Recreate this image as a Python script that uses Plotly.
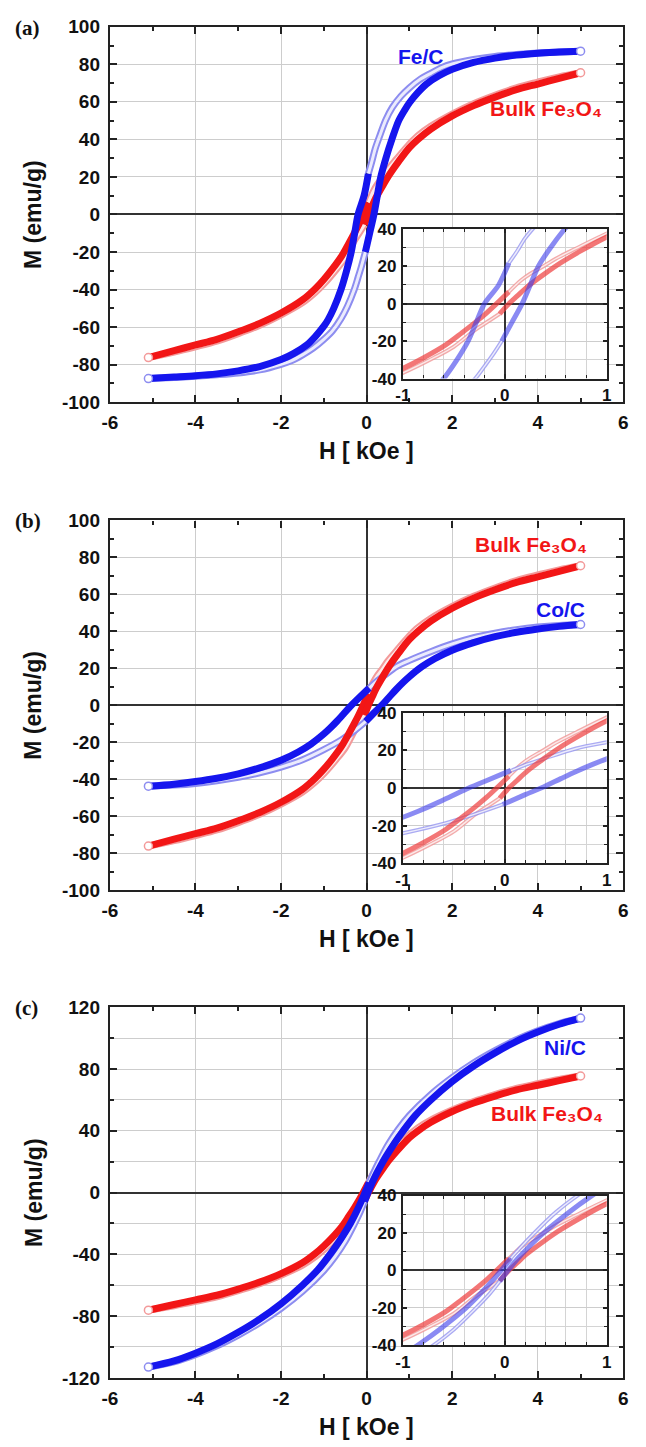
import plotly.graph_objects as go

# ---------------- data ----------------
# Fe/C  (panel a)
fec_dn_thin_h = [5.0, 4.5, 4.0, 3.5, 3.0, 2.5, 2.0, 1.75, 1.5, 1.25, 1.0, 0.8, 0.6, 0.45, 0.3, 0.2, 0.12, 0.04]
fec_dn_thin_m = [87.0, 86.6, 86.0, 85.2, 84.2, 82.6, 80.2, 78.2, 75.2, 72.0, 67.5, 63.0, 57.0, 50.5, 41.5, 35.0, 28.0, 21.7]
fec_dn_dense_h = [0.04, -0.06, -0.2, -0.28, -0.36, -0.47, -0.6, -0.77, -0.9, -1.0, -1.2, -1.4, -1.7, -2.0, -2.5, -3.0, -3.5, -4.0, -4.5, -5.1]
fec_dn_dense_m = [21.7, 10.0, 0.0, -10.0, -20.0, -30.0, -40.0, -50.0, -56.0, -59.5, -65.0, -69.5, -74.0, -77.3, -81.0, -83.3, -84.9, -85.9, -86.6, -87.4]
fec_up_thin_h = [-5.1, -4.5, -4.0, -3.5, -3.0, -2.5, -2.0, -1.75, -1.5, -1.25, -1.0, -0.8, -0.6, -0.45, -0.29, -0.2, -0.12, -0.03]
fec_up_thin_m = [-87.4, -86.8, -86.2, -85.4, -84.4, -82.8, -79.8, -77.8, -74.8, -71.2, -66.5, -62.0, -55.5, -49.0, -40.0, -33.5, -27.5, -20.0]
fec_up_dense_h = [-0.03, 0.07, 0.17, 0.25, 0.33, 0.45, 0.59, 0.75, 0.9, 1.0, 1.2, 1.4, 1.7, 2.0, 2.5, 3.0, 3.5, 4.0, 4.5, 5.0]
fec_up_dense_m = [-20.0, -10.0, 0.0, 10.0, 20.0, 30.0, 40.0, 50.0, 56.0, 59.5, 65.0, 69.5, 74.0, 77.3, 81.0, 83.3, 84.9, 85.9, 86.5, 87.0]

# Bulk Fe3O4 (all panels)
fe3o4_dn_thin_h = [5.0, 4.5, 4.0, 3.5, 3.0, 2.5, 2.0, 1.5, 1.2, 1.0, 0.7, 0.5, 0.38, 0.25, 0.16, 0.04]
fe3o4_dn_thin_m = [75.5, 73.3, 70.5, 67.5, 63.5, 59.0, 53.5, 47.0, 42.0, 37.5, 29.5, 24.0, 20.0, 16.0, 12.5, 6.3]
fe3o4_dn_dense_h = [0.04, -0.08, -0.18, -0.29, -0.42, -0.58, -0.8, -1.0, -1.2, -1.5, -2.0, -2.5, -3.0, -3.5, -4.0, -4.5, -5.1]
fe3o4_dn_dense_m = [6.3, 0.0, -5.0, -10.0, -15.5, -22.0, -29.0, -34.6, -39.5, -45.5, -52.5, -58.0, -62.5, -66.5, -69.5, -72.5, -76.2]
fe3o4_up_thin_h = [-5.1, -4.5, -4.0, -3.5, -3.0, -2.5, -2.0, -1.5, -1.2, -1.0, -0.7, -0.5, -0.29, -0.15, -0.05]
fe3o4_up_thin_m = [-76.2, -73.3, -70.5, -67.5, -63.5, -59.0, -53.5, -47.0, -41.5, -37.0, -29.0, -23.0, -14.0, -9.0, -5.4]
fe3o4_up_dense_h = [-0.05, 0.04, 0.12, 0.22, 0.38, 0.54, 0.75, 1.0, 1.2, 1.5, 2.0, 2.5, 3.0, 3.5, 4.0, 4.5, 5.0]
fe3o4_up_dense_m = [-5.4, 0.0, 4.0, 9.0, 15.5, 21.5, 28.3, 35.6, 40.0, 45.5, 52.5, 58.0, 62.5, 66.5, 69.5, 72.5, 75.5]

# Co/C (panel b)
coc_dn_thin_h = [5.0, 4.5, 4.0, 3.5, 3.0, 2.5, 2.0, 1.5, 1.0, 0.7, 0.38, 0.2, 0.07]
coc_dn_thin_m = [43.7, 43.2, 42.3, 40.9, 39.0, 36.6, 33.2, 29.0, 24.3, 21.0, 15.5, 12.3, 9.4]
coc_dn_dense_h = [0.06, -0.2, -0.38, -0.55, -0.7, -0.85, -1.0, -1.3, -1.6, -2.0, -2.5, -3.0, -3.5, -4.0, -4.5, -5.1]
coc_dn_dense_m = [9.4, 3.5, -0.6, -5.0, -8.8, -12.3, -15.5, -21.0, -25.3, -29.8, -33.9, -37.1, -39.5, -41.3, -42.7, -43.8]
coc_up_thin_h = [-5.1, -4.5, -4.0, -3.5, -3.0, -2.5, -2.0, -1.5, -1.0, -0.58, -0.3, -0.02]
coc_up_thin_m = [-43.8, -43.2, -42.3, -40.9, -39.0, -36.6, -33.5, -29.5, -24.0, -18.6, -14.0, -8.7]
coc_up_dense_h = [-0.02, 0.2, 0.38, 0.55, 0.7, 0.85, 1.0, 1.3, 1.6, 2.0, 2.5, 3.0, 3.5, 4.0, 4.5, 5.0]
coc_up_dense_m = [-8.7, -3.5, 0.6, 5.0, 8.8, 12.3, 15.5, 21.0, 25.3, 29.8, 33.9, 37.1, 39.5, 41.3, 42.7, 43.7]

# Ni/C (panel c)
nic_dn_thin_h = [5.0, 4.5, 4.0, 3.5, 3.0, 2.5, 2.0, 1.5, 1.0, 0.74, 0.5, 0.29, 0.15, 0.06]
nic_dn_thin_m = [113.0, 109.5, 104.8, 99.0, 92.0, 84.0, 74.5, 63.5, 50.0, 41.0, 31.0, 20.0, 12.0, 6.5]
nic_dn_dense_h = [0.06, -0.13, -0.38, -0.64, -0.83, -1.14, -1.5, -2.0, -2.5, -3.0, -3.5, -4.0, -4.5, -5.1]
nic_dn_dense_m = [6.5, -6.0, -20.0, -31.5, -39.0, -50.0, -60.0, -72.0, -82.0, -90.5, -98.0, -104.0, -109.0, -113.0]
nic_up_thin_h = [-5.1, -4.5, -4.0, -3.5, -3.0, -2.5, -2.0, -1.5, -1.0, -0.74, -0.5, -0.29, -0.15, -0.05]
nic_up_thin_m = [-113.0, -109.6, -105.0, -99.3, -92.3, -84.3, -75.0, -64.0, -50.5, -41.5, -31.5, -20.5, -12.5, -5.8]
nic_up_dense_h = [-0.05, 0.13, 0.38, 0.64, 0.83, 1.14, 1.5, 2.0, 2.5, 3.0, 3.5, 4.0, 4.5, 5.0]
nic_up_dense_m = [-5.8, 6.5, 20.0, 31.5, 39.0, 50.0, 60.0, 72.0, 82.0, 90.5, 98.0, 104.0, 109.0, 113.0]

# tick labels
main_x_vals = [-6, -4, -2, 0, 2, 4, 6]
main_x_text = ["-6", "-4", "-2", "0", "2", "4", "6"]
main_y_vals_ab = [-100, -80, -60, -40, -20, 0, 20, 40, 60, 80, 100]
main_y_text_ab = ["-100", "-80", "-60", "-40", "-20", "0", "20", "40", "60", "80", "100"]
main_y_vals_c = [-120, -80, -40, 0, 40, 80, 120]
main_y_text_c = ["-120", "-80", "-40", "0", "40", "80", "120"]
ins_x_vals = [-1, 0, 1]
ins_x_text = ["-1", "0", "1"]
ins_y_vals = [-40, -20, 0, 20, 40]
ins_y_text = ["-40", "-20", "0", "20", "40"]

panel_labels = ["(a)", "(b)", "(c)"]
sample_names = ["Fe/C", "Co/C", "Ni/C"]
bulk_name = "Bulk Fe\u2083O\u2084"
x_title = "H [ kOe ]"
y_title = "M (emu/g)"

# ---------------- layout helpers ----------------
W, H = 646, 1447
FONT = "Liberation Sans, Arial, sans-serif"


def xd(px):
    return px / W


def yd(py):
    return 1 - py / H


main_boxes = [(104, 628, 17, 398), (104, 628, 518, 893), (104, 628, 1012, 1388)]
inset_boxes = [(403, 611, 222, 374), (403, 611, 713, 866), (403, 611, 1203, 1355)]

BLUE = "#1515ee"
BLUE_L = "#8d8df0"
BLUE_LL = "#ebebfd"
RED = "#f21616"
RED_L = "#f39a9a"
RED_LL = "#fdeaea"

fig = go.Figure()
layout = dict(width=W, height=H, margin=dict(l=0, r=0, t=0, b=0),
              paper_bgcolor="white", plot_bgcolor="white", showlegend=False)

blue_loops = [
    (fec_dn_thin_h, fec_dn_thin_m, fec_dn_dense_h, fec_dn_dense_m,
     fec_up_thin_h, fec_up_thin_m, fec_up_dense_h, fec_up_dense_m),
    (coc_dn_thin_h, coc_dn_thin_m, coc_dn_dense_h, coc_dn_dense_m,
     coc_up_thin_h, coc_up_thin_m, coc_up_dense_h, coc_up_dense_m),
    (nic_dn_thin_h, nic_dn_thin_m, nic_dn_dense_h, nic_dn_dense_m,
     nic_up_thin_h, nic_up_thin_m, nic_up_dense_h, nic_up_dense_m),
]
red_loop = (fe3o4_dn_thin_h, fe3o4_dn_thin_m, fe3o4_dn_dense_h, fe3o4_dn_dense_m,
            fe3o4_up_thin_h, fe3o4_up_thin_m, fe3o4_up_dense_h, fe3o4_up_dense_m)


def line_tr(h, m, xa, ya, color, width, smooth=0.9):
    return go.Scatter(x=h, y=m, xaxis=xa, yaxis=ya, mode="lines", hoverinfo="skip",
                      line=dict(color=color, width=width, shape="spline", smoothing=smooth))


def add_loop(data, xa, ya, strong, light, lighter, inset, stage):
    dth, dtm, ddh, ddm, uth, utm, udh, udm = data
    if stage == "thin":
        for h, m in ((dth, dtm), (uth, utm)):
            if inset:
                fig.add_trace(line_tr(h, m, xa, ya, light, 4))
                fig.add_trace(line_tr(h, m, xa, ya, lighter, 1.4))
            else:
                fig.add_trace(line_tr(h, m, xa, ya, light, 7))
                fig.add_trace(line_tr(h, m, xa, ya, lighter, 3))
    else:
        for h, m in ((ddh, ddm), (udh, udm)):
            fig.add_trace(line_tr(h, m, xa, ya, strong, 5 if inset else 7))
        if not inset:
            fig.add_trace(go.Scatter(x=[dth[0], uth[0]], y=[dtm[0], utm[0]], xaxis=xa, yaxis=ya,
                                     mode="markers", hoverinfo="skip",
                                     marker=dict(symbol="circle", size=8, color="white",
                                                 line=dict(color=light, width=1.5))))


tickfont_main = dict(family=FONT, size=19, color="#111", weight="bold")
tickfont_ins = dict(family=FONT, size=17, color="#111", weight="bold")

annotations = []
# label anchor positions in data units of each main panel
name_pos = [
    [(1.26, 84.0, BLUE, sample_names[0]), (4.2, 56.5, RED, bulk_name)],
    [(3.85, 87.0, RED, bulk_name), (4.53, 52.0, BLUE, sample_names[1])],
    [(4.63, 94.0, BLUE, sample_names[2]), (4.22, 51.0, RED, bulk_name)],
]

for p in range(3):
    mi = 2 * p + 1
    ii = 2 * p + 2
    mx = "x" if mi == 1 else f"x{mi}"
    my = "y" if mi == 1 else f"y{mi}"
    ix, iy = f"x{ii}", f"y{ii}"
    mxk = "xaxis" if mi == 1 else f"xaxis{mi}"
    myk = "yaxis" if mi == 1 else f"yaxis{mi}"
    ixk, iyk = f"xaxis{ii}", f"yaxis{ii}"
    bx0, bx1, by0, by1 = main_boxes[p]
    cx0, cx1, cy0, cy1 = inset_boxes[p]

    common = dict(showline=True, linewidth=2.2, linecolor="#222", mirror="ticks",
                  ticks="inside", tickwidth=2, tickcolor="#222",
                  showgrid=True, gridcolor="#cdcdcd", gridwidth=1.2,
                  zeroline=True, zerolinecolor="#333", zerolinewidth=1.6, fixedrange=True)

    layout[mxk] = dict(common, domain=[xd(bx0), xd(bx1)], anchor=my, range=[-6, 6],
                       tickmode="array", tickvals=main_x_vals, ticktext=main_x_text, ticklen=7,
                       minor=dict(dtick=1, tick0=0, ticks="inside", ticklen=4, tickwidth=1.6,
                                  tickcolor="#222", showgrid=False),
                       tickfont=tickfont_main, ticklabelstandoff=2)
    if p < 2:
        yv, yt, yr, ymd, yminor_grid = main_y_vals_ab, main_y_text_ab, [-100, 100], 10, False
    else:
        yv, yt, yr, ymd, yminor_grid = main_y_vals_c, main_y_text_c, [-120, 120], 20, True
    layout[myk] = dict(common, domain=[yd(by1), yd(by0)], anchor=mx, range=yr,
                       tickmode="array", tickvals=yv, ticktext=yt, ticklen=7,
                       minor=dict(dtick=ymd, tick0=0, ticks="inside", ticklen=4, tickwidth=1.6,
                                  tickcolor="#222", showgrid=yminor_grid,
                                  gridcolor="#cdcdcd", gridwidth=1.2),
                       tickfont=tickfont_main, ticklabelstandoff=4)
    layout[ixk] = dict(common, domain=[xd(cx0), xd(cx1)], anchor=iy, range=[-1, 1],
                       tickmode="array", tickvals=ins_x_vals, ticktext=ins_x_text, ticklen=4,
                       minor=dict(dtick=0.2, tick0=0, ticks="inside", ticklen=3, tickwidth=1.2,
                                  tickcolor="#222", showgrid=True, gridcolor="#d4d4d4", gridwidth=1),
                       tickfont=tickfont_ins, ticklabelstandoff=0)
    layout[iyk] = dict(common, domain=[yd(cy1), yd(cy0)], anchor=ix, range=[-40, 40],
                       tickmode="array", tickvals=ins_y_vals, ticktext=ins_y_text, ticklen=4,
                       minor=dict(dtick=10, tick0=0, ticks="inside", ticklen=3, tickwidth=1.2,
                                  tickcolor="#222", showgrid=True, gridcolor="#d4d4d4", gridwidth=1),
                       tickfont=tickfont_ins, ticklabelstandoff=1)

    blue = blue_loops[p]
    for stage in ("thin", "dense"):
        add_loop(red_loop, mx, my, RED, RED_L, RED_LL, False, stage)
        add_loop(blue, mx, my, BLUE, BLUE_L, BLUE_LL, False, stage)
    for stage in ("thin", "dense"):
        add_loop(red_loop, ix, iy, "rgba(238,60,60,0.7)", "rgba(240,150,150,0.8)", "#fbeaea", True, stage)
        add_loop(blue, ix, iy, "rgba(60,60,235,0.6)", "rgba(150,150,240,0.8)", "#ececfc", True, stage)

    # panel label, axis titles
    annotations.append(dict(text=panel_labels[p], x=xd(5), y=yd(by0 + 1), xref="paper", yref="paper",
                            xanchor="left", yanchor="middle", showarrow=False,
                            font=dict(family="Liberation Serif, Times New Roman, serif", size=21,
                                      color="#111", weight="bold")))
    annotations.append(dict(text=x_title, x=xd(366), y=yd(by1 + 50), xref="paper", yref="paper",
                            xanchor="center", yanchor="middle", showarrow=False,
                            font=dict(family=FONT, size=23, color="#111", weight="bold")))
    annotations.append(dict(text=y_title, x=xd(26), y=yd((by0 + by1) / 2), xref="paper", yref="paper",
                            xanchor="center", yanchor="middle", showarrow=False, textangle=-90,
                            font=dict(family=FONT, size=23, color="#111", weight="bold")))
    for (hx, my_, col, txt) in name_pos[p]:
        annotations.append(dict(text=txt, x=hx, y=my_, xref=mx, yref=my,
                                xanchor="center", yanchor="middle", showarrow=False,
                                font=dict(family=FONT, size=21, color=col, weight="bold")))

layout["annotations"] = annotations
fig.update_layout(**layout)
fig.write_html("out.html")
